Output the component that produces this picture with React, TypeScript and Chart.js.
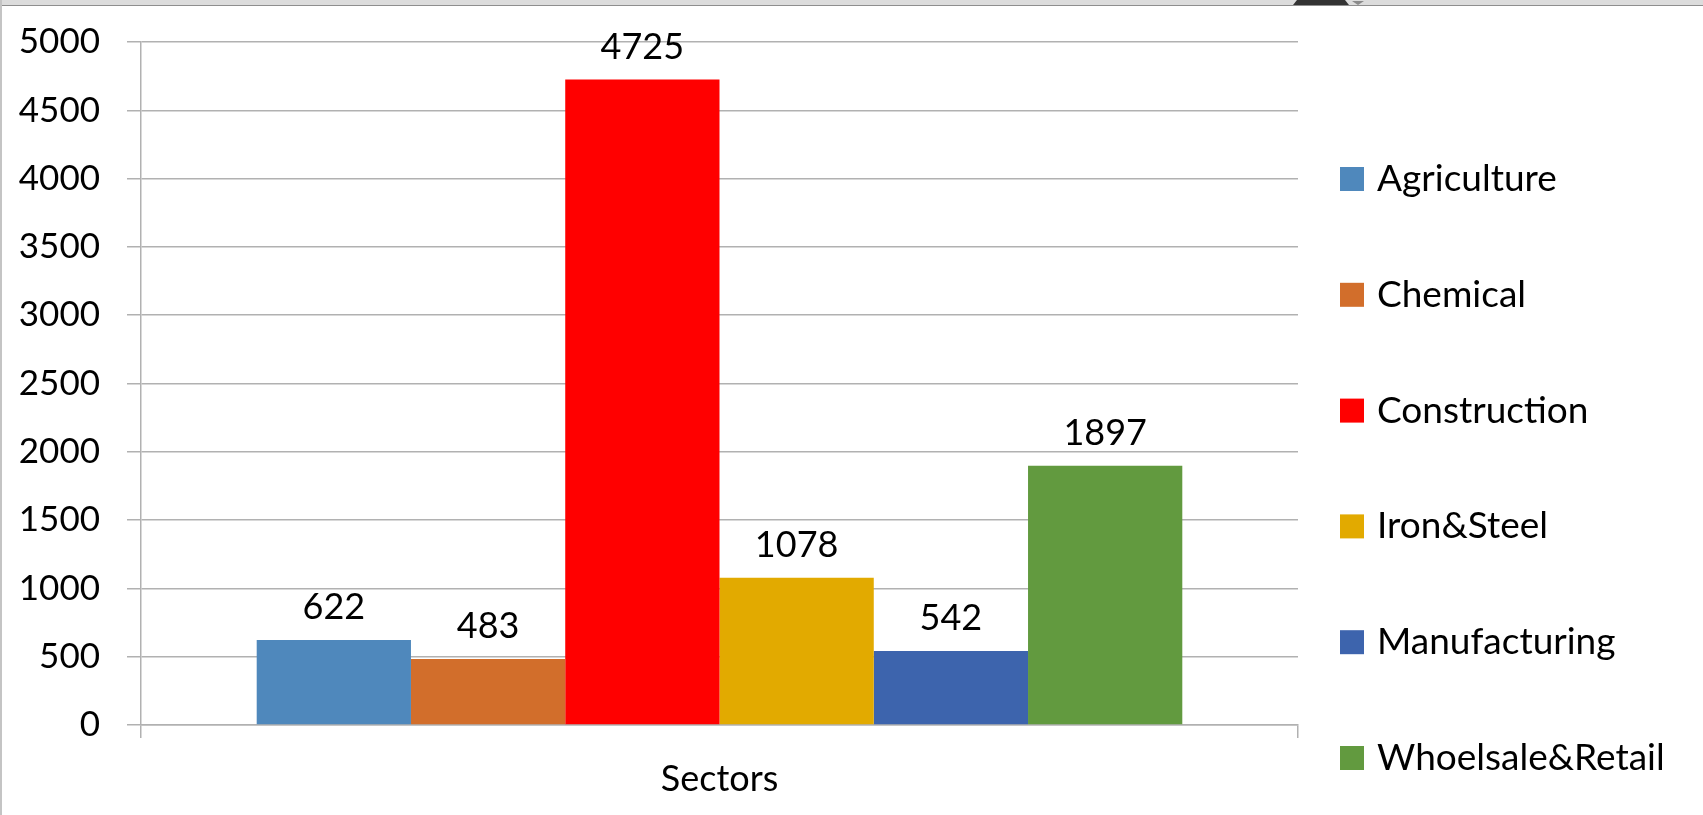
import React, { useEffect, useRef } from "react";
import { Chart, registerables } from "chart.js";

Chart.register(...registerables);

const categories = ["Sectors"];
const seriesNames = ["Agriculture", "Chemical", "Construction", "Iron&Steel", "Manufacturing", "Whoelsale&Retail"];
const seriesValues = [622, 483, 4725, 1078, 542, 1897];
const seriesColors = ["#4f88bc", "#d26e2b", "#ff0000", "#e2aa00", "#3d64ad", "#629a3f"];
const yMin = 0;
const yMax = 5000;
const yStep = 500;

const FONT = "Lato";
const GRID = "#b1b1b1";

const framePlugin = {
  id: "frame",
  beforeDraw(chart: any) {
    const ctx = chart.ctx;
    ctx.save();
    ctx.fillStyle = "#ffffff";
    ctx.fillRect(0, 0, chart.width, chart.height);
    ctx.fillStyle = "#dcdcdc";
    ctx.fillRect(0, 0, chart.width, 5);
    ctx.fillStyle = "#8e8e8e";
    ctx.fillRect(0, 5, chart.width, 1);
    ctx.fillStyle = "#c4c4c4";
    ctx.fillRect(0, 0, 2, chart.height);
    ctx.fillStyle = "#333333";
    ctx.beginPath();
    ctx.moveTo(1293, 5);
    ctx.lineTo(1297, 0);
    ctx.lineTo(1345, 0);
    ctx.lineTo(1349, 5);
    ctx.closePath();
    ctx.fill();
    ctx.fillStyle = "#8a8a8a";
    ctx.beginPath();
    ctx.moveTo(1352, 1);
    ctx.lineTo(1364, 1);
    ctx.lineTo(1358, 5);
    ctx.closePath();
    ctx.fill();
    ctx.restore();
  },
};

const dataLabelPlugin = {
  id: "dataLabels",
  afterDatasetsDraw(chart: any) {
    const ctx = chart.ctx;
    ctx.save();
    ctx.font = `36px ${FONT}`;
    ctx.fillStyle = "#000000";
    ctx.textAlign = "center";
    ctx.textBaseline = "alphabetic";
    chart.data.datasets.forEach((ds: any, i: number) => {
      const meta = chart.getDatasetMeta(i);
      meta.data.forEach((bar: any, j: number) => {
        ctx.fillText(String(ds.data[j]), bar.x, bar.y - 21);
      });
    });
    ctx.restore();
  },
};

const legendPlugin = {
  id: "sideLegend",
  afterDraw(chart: any) {
    const ctx = chart.ctx;
    ctx.save();
    ctx.font = `37px ${FONT}`;
    ctx.textAlign = "left";
    ctx.textBaseline = "middle";
    const boxX = 1340;
    const box = 24;
    const firstTop = 167;
    const step = 115.8;
    chart.data.datasets.forEach((ds: any, i: number) => {
      const top = firstTop + i * step;
      ctx.fillStyle = ds.backgroundColor;
      ctx.fillRect(boxX, top, box, box);
      ctx.fillStyle = "#000000";
      ctx.fillText(ds.label, boxX + box + 13, top + box / 2);
    });
    ctx.restore();
  },
};

export default function App() {
  const canvasRef = useRef<HTMLCanvasElement | null>(null);

  useEffect(() => {
    if (!canvasRef.current) return;
    const chart = new Chart(canvasRef.current, {
      type: "bar",
      data: {
        labels: categories,
        datasets: seriesNames.map((name, i) => ({
          label: name,
          data: [seriesValues[i]],
          backgroundColor: seriesColors[i],
          borderWidth: 0,
          categoryPercentage: 0.8,
          barPercentage: 1.0,
        })),
      },
      options: {
        animation: false,
        responsive: true,
        maintainAspectRatio: false,
        devicePixelRatio: 1,
        layout: { padding: { left: 0, right: 405, top: 42, bottom: 0 } },
        plugins: {
          legend: { display: false },
          tooltip: { enabled: false },
          title: { display: false },
        },
        scales: {
          x: {
            grid: {
              display: true,
              drawOnChartArea: false,
              drawTicks: true,
              tickLength: 13,
              color: GRID,
              lineWidth: 1.5,
            },
            border: { display: true, color: GRID, width: 1.5 },
            ticks: {
              color: "#000000",
              font: { family: FONT, size: 36 },
              padding: 20,
            },
            afterFit: (scale: any) => {
              scale.height = 90;
              scale.paddingLeft = 0;
              scale.paddingRight = 0;
            },
          },
          y: {
            min: yMin,
            max: yMax,
            grid: {
              color: GRID,
              lineWidth: 1.5,
              drawTicks: true,
              tickLength: 14,
            },
            border: { display: true, color: GRID, width: 1.5 },
            ticks: {
              stepSize: yStep,
              color: "#000000",
              font: { family: FONT, size: 35 },
              padding: 27,
              callback: (v: any) => String(v),
            },
            afterFit: (scale: any) => {
              scale.width = 141;
              scale.paddingTop = 0;
              scale.paddingBottom = 0;
            },
          },
        },
      },
      plugins: [framePlugin, dataLabelPlugin, legendPlugin],
    });
    return () => chart.destroy();
  }, []);

  return (
    <div style={{ position: "absolute", left: 0, top: 0, width: 1703, height: 815 }}>
      <canvas ref={canvasRef} />
    </div>
  );
}
